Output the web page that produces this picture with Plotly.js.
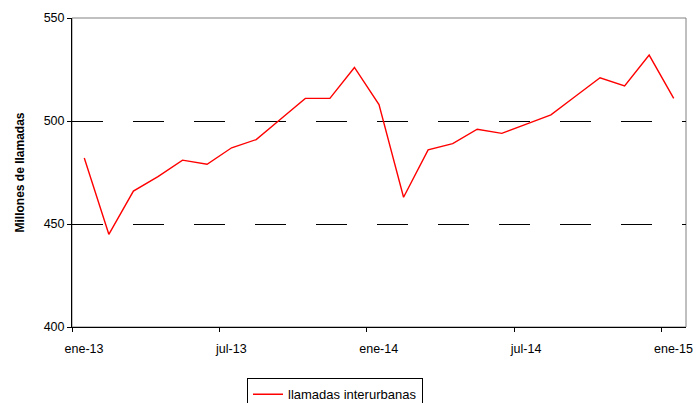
<!DOCTYPE html>
<html>
<head>
<meta charset="utf-8">
<script src="https://cdn.plot.ly/plotly-3.0.1.min.js"></script>
<style>
  html, body { margin: 0; padding: 0; background: #fff; }
  #chart { width: 696px; height: 403px; }
</style>
</head>
<body>
<div id="chart"></div>
<script>
// monthly values, ene-13 .. ene-15
const months = ['ene-13', 'feb-13', 'mar-13', 'abr-13', 'may-13', 'jun-13',
                'jul-13', 'ago-13', 'sep-13', 'oct-13', 'nov-13', 'dic-13',
                'ene-14', 'feb-14', 'mar-14', 'abr-14', 'may-14', 'jun-14',
                'jul-14', 'ago-14', 'sep-14', 'oct-14', 'nov-14', 'dic-14',
                'ene-15'];
const llamadas = [482, 445, 466, 473, 481, 479, 487, 491, 501, 511, 511, 526, 508,
                  463, 486, 489, 496, 494, 498.5, 503, 512, 521, 517, 532, 511];

const tickLabels = ['ene-13', 'jul-13', 'ene-14', 'jul-14', 'ene-15'];
// ticks sit on the left edge of each labelled month
const tickPos = tickLabels.map(t => months.indexOf(t) - 0.5);

const FONT = 'Arial, "Liberation Sans", sans-serif';

const trace = {
  x: months.map((m, i) => i),
  y: llamadas,
  type: 'scatter',
  mode: 'lines',
  name: 'llamadas interurbanas',
  line: { color: '#ff0000', width: 1.4 },
  hoverinfo: 'skip'
};

const layout = {
  width: 696,
  height: 403,
  margin: { l: 72, r: 10, t: 18, b: 76, autoexpand: false },
  paper_bgcolor: '#ffffff',
  plot_bgcolor: '#ffffff',
  font: { family: FONT, size: 12, color: '#000' },
  showlegend: true,
  legend: {
    x: 0.285, xanchor: 'left',
    y: -0.166, yanchor: 'top',
    orientation: 'h',
    bordercolor: '#000', borderwidth: 1,
    font: { family: FONT, size: 13, color: '#000' }
  },
  xaxis: {
    range: [-0.5, 24.5],
    tickmode: 'array',
    tickvals: tickPos,
    ticktext: tickLabels,
    ticklabelshift: 12,
    ticklabelstandoff: 6,
    tickfont: { size: 12.5 },
    ticks: 'outside', ticklen: 4, tickcolor: '#000', tickwidth: 1,
    showline: true, linecolor: '#000', linewidth: 1,
    showgrid: false, zeroline: false,
    fixedrange: true
  },
  yaxis: {
    range: [400, 550],
    tickmode: 'linear', tick0: 400, dtick: 50,
    tickfont: { size: 12.5 },
    ticks: 'outside', ticklen: 4, tickcolor: '#000', tickwidth: 1,
    showline: true, linecolor: '#000', linewidth: 1,
    showgrid: true, gridcolor: '#000', gridwidth: 1, griddash: '30.5px,30.5px',
    zeroline: false,
    title: { text: '<b>Millones de llamadas</b>', font: { family: FONT, size: 12 }, standoff: 16 },
    fixedrange: true
  },
  shapes: [{
    type: 'rect', xref: 'paper', yref: 'paper',
    x0: 0, x1: 1, y0: 0, y1: 1,
    line: { color: '#808080', width: 1 },
    layer: 'below'
  }]
};

Plotly.newPlot('chart', [trace], layout, { displayModeBar: false, staticPlot: true });
</script>
</body>
</html>
